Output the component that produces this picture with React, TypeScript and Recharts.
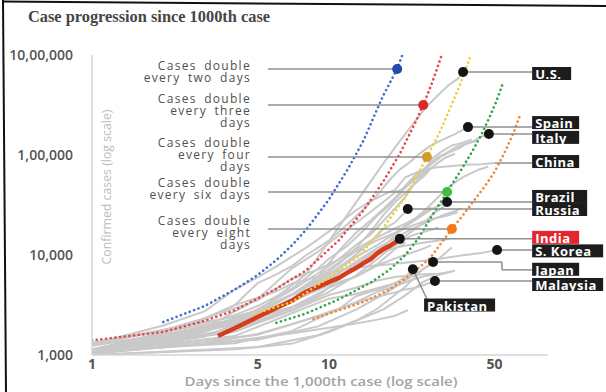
import React from "react";
import { LineChart, Line, XAxis, YAxis, ReferenceLine, ReferenceDot } from "recharts";

type Pt = [number, number];

const title = "Case progression since 1000th case";
const xLabel = "Days since the 1,000th case (log scale)";
const yLabel = "Confirmed cases (log scale)";

const xTicks = [1, 5, 10, 50];
const yTicks = [1000, 10000, 100000, 1000000];
const yTickLabels = ["1,000", "10,000", "1,00,000", "10,00,000"];

// country curves: [days since 1,000th case, confirmed cases]
const usCases: Pt[] = [[1, 1000], [3, 1700], [5, 2700], [8, 6400], [11, 19000], [14, 43000], [17, 83000], [20, 140000], [23, 215000], [26, 310000], [29, 400000], [32, 500000], [35, 580000], [36.8, 676000]];
const spainCases: Pt[] = [[1, 1073], [2, 1695], [3, 2277], [4, 3146], [5, 5232], [6, 6391], [7, 7798], [8, 9942], [10, 13910], [12, 20410], [14, 28603], [16, 39673], [18, 56188], [20, 72248], [22, 85195], [24, 102136], [26, 117710], [28, 130759], [31, 146690], [34, 161852], [38.6, 190000]];
const italyCases: Pt[] = [[1, 1128], [2, 1694], [3, 2036], [4, 2502], [5, 3089], [6, 3858], [7, 4636], [8, 5883], [9, 7375], [10, 9172], [12, 12462], [14, 17660], [16, 24747], [18, 31506], [20, 41035], [22, 53578], [24, 63927], [26, 74386], [28, 86498], [30, 97689], [32, 105792], [35, 115242], [38, 128948], [41, 139422], [44, 152271], [47.3, 162000]];
const germanyCases: Pt[] = [[1, 1040], [3, 1565], [5, 2369], [7, 3675], [9, 6012], [11, 10999], [13, 16662], [15, 22213], [17, 29056], [19, 37323], [21, 49344], [23, 61913], [25, 71808], [27, 84794], [29, 96092], [31, 103375], [34, 118181], [37, 127854], [40, 134000], [42, 138000]];
const franceCases: Pt[] = [[1, 1126], [3, 1784], [5, 2860], [7, 4469], [9, 6573], [11, 9043], [13, 12612], [15, 16018], [17, 22025], [19, 29155], [21, 38105], [23, 52128], [25, 64338], [27, 90848], [30, 109069], [33, 124869], [36, 130253], [40, 143000]];
const ukCases: Pt[] = [[1, 1140], [3, 1950], [5, 2626], [7, 3983], [9, 5683], [11, 8077], [13, 11658], [15, 17089], [17, 25150], [19, 33718], [21, 41903], [23, 51608], [25, 60733], [27, 73758], [29, 84279], [31, 93873], [34, 103000]];
const turkeyCases: Pt[] = [[1, 1236], [3, 1872], [5, 3629], [7, 7402], [9, 10827], [11, 15679], [13, 20921], [15, 27069], [17, 34109], [19, 42282], [21, 47029], [23, 56956], [25, 65111], [27, 74193]];
const iranCases: Pt[] = [[1, 1000], [3, 2336], [5, 3513], [7, 5823], [9, 7161], [11, 9000], [13, 11364], [15, 13938], [17, 16169], [19, 18407], [21, 20610], [23, 23049], [25, 27017], [27, 32332], [29, 38309], [31, 44605], [33, 50468], [35, 55743], [37, 60500], [40, 66220], [43, 71686], [47, 76389]];
const chinaCases: Pt[] = [[1, 1287], [2, 1975], [3, 2744], [4, 4515], [5, 5974], [6, 7711], [7, 9692], [8, 11791], [9, 14380], [10, 17205], [11, 20438], [13, 28018], [15, 34546], [17, 40171], [19, 44653], [21, 59804], [24, 68500], [28, 75077], [33, 77658], [38, 79968], [44, 81000], [50, 83000]];
const brazilCases: Pt[] = [[1, 1128], [3, 1593], [5, 2201], [7, 2985], [9, 3904], [11, 5717], [13, 7910], [15, 10278], [17, 12056], [19, 15927], [21, 19638], [23, 22169], [25, 25262], [27, 28610], [29, 31000], [31.5, 33900]];
const russiaCases: Pt[] = [[1, 1036], [3, 1534], [5, 2337], [7, 3548], [9, 5389], [11, 7497], [13, 10131], [15, 13584], [17, 18328], [19, 21102], [21.5, 28800]];
const belgiumCases: Pt[] = [[1, 1085], [4, 1795], [7, 2815], [10, 4269], [13, 6235], [16, 9134], [19, 12775], [22, 16770], [25, 20814], [28, 26667], [31, 31119], [33, 34809]];
const netherlandsCases: Pt[] = [[1, 1135], [4, 2051], [7, 3631], [10, 5560], [13, 8603], [16, 11750], [19, 14697], [22, 17851], [25, 20549], [28, 23097], [31, 25587], [34, 27419], [36, 29214]];
const canadaCases: Pt[] = [[1, 1087], [4, 2088], [7, 4043], [10, 6320], [13, 9560], [16, 12549], [19, 16667], [22, 20654], [25, 25680], [27, 30106]];
const switzerlandCases: Pt[] = [[1, 1139], [4, 2200], [7, 4075], [10, 7245], [13, 10897], [16, 14076], [19, 16605], [22, 19303], [25, 21574], [28, 23280], [31, 24551], [35, 26732]];
const portugalCases: Pt[] = [[1, 1020], [4, 2060], [7, 3544], [10, 5962], [13, 8251], [16, 10524], [19, 12442], [22, 15472], [25, 16934], [29, 18841]];
const austriaCases: Pt[] = [[1, 1018], [4, 2013], [7, 3631], [10, 5888], [13, 8271], [16, 10180], [19, 11781], [22, 12640], [25, 13244], [28, 13806], [32, 14476]];
const israelCases: Pt[] = [[1, 1071], [4, 2030], [7, 3035], [10, 4695], [13, 6092], [16, 7851], [19, 9248], [22, 10408], [25, 11586], [27, 12501]];
const swedenCases: Pt[] = [[1, 1040], [5, 1423], [9, 1934], [13, 2840], [17, 4028], [21, 5568], [25, 7206], [29, 9141], [33, 11900]];
const irelandCases: Pt[] = [[1, 1329], [4, 2415], [7, 3447], [10, 4994], [13, 6074], [16, 8089], [19, 11479], [21, 13271]];
const koreaCases: Pt[] = [[1, 1261], [2, 1766], [3, 2337], [4, 3150], [5, 3736], [6, 4335], [7, 5186], [8, 5621], [9, 6088], [10, 6593], [12, 7313], [15, 7755], [19, 8162], [24, 8652], [29, 9137], [36, 9887], [43, 10384], [51.2, 11200]];
const japanCases: Pt[] = [[1, 1000], [4, 1140], [7, 1300], [10, 1700], [13, 2200], [16, 2900], [19, 4000], [21, 4800], [23, 6000], [25, 7300], [27.5, 8500]];
const malaysiaCases: Pt[] = [[1, 1030], [3, 1306], [5, 1624], [7, 2031], [9, 2470], [11, 2908], [13, 3333], [15, 3662], [17, 3963], [19, 4228], [21, 4530], [23, 4683], [25, 4987], [28, 5500]];
const pakistanCases: Pt[] = [[1, 1057], [3, 1373], [5, 1597], [7, 2039], [9, 2450], [11, 2880], [13, 3864], [15, 4322], [17, 4695], [19, 5230], [21, 5988], [22.6, 7200]];
const thailandCases: Pt[] = [[1, 1045], [4, 1388], [7, 1651], [10, 1875], [13, 2067], [16, 2258], [19, 2473], [21.5, 2800]];
const philippinesCases: Pt[] = [[1, 1075], [4, 1546], [7, 2633], [10, 3660], [13, 4076], [16, 4648], [19, 5223], [20, 5453]];
const australiaCases: Pt[] = [[1, 1072], [4, 1709], [7, 2799], [10, 3984], [13, 4707], [16, 5548], [19, 6013], [22, 6238], [25, 6415], [28, 6500]];
const norwayCases: Pt[] = [[1, 1090], [4, 1308], [7, 1742], [10, 2621], [13, 3369], [16, 4284], [19, 4863], [22, 5550], [25, 6086], [28, 6409], [33, 6800]];
const denmarkCases: Pt[] = [[1, 1000], [5, 1200], [9, 1577], [13, 2200], [17, 2860], [21, 3946], [25, 5402], [29, 6318], [34, 7000]];

const grayCurves: Pt[][] = [
  usCases, spainCases, italyCases, germanyCases, franceCases, ukCases, turkeyCases, iranCases,
  chinaCases, brazilCases, russiaCases, belgiumCases, netherlandsCases, canadaCases, switzerlandCases,
  portugalCases, austriaCases, israelCases, swedenCases, irelandCases, koreaCases, japanCases,
  malaysiaCases, pakistanCases, thailandCases, philippinesCases, australiaCases, norwayCases, denmarkCases,
];

const indiaCases: Pt[] = [[3.4, 1550], [4, 1850], [5, 2400], [6, 2950], [7, 3500], [8, 4300], [9, 4800], [10, 5370], [11, 5900], [12, 6700], [13, 7400], [14, 8300], [15, 9100], [16, 10400], [17, 11500], [18, 12300], [19, 13400], [19.9, 14500]];

// doubling guides
const doubleTwo: Pt[] = [[2, 2140], [3, 3100], [4, 4500], [5, 6300], [6, 8900], [7, 12600], [8, 17800], [10, 36000], [12, 72000], [14, 140000], [16, 290000], [17, 400000], [19.4, 724000], [20.4, 1000000]];
const doubleThree: Pt[] = [[1, 1400], [2, 1700], [3, 2200], [4, 2800], [6, 4600], [8, 7000], [11, 14000], [14, 28000], [17, 55000], [20, 105000], [23, 205000], [25, 316000], [27.5, 560000], [29.9, 1000000]];
const doubleFour: Pt[] = [[4.9, 2600], [7, 3400], [9.4, 5400], [11.5, 7500], [13.5, 10000], [16.9, 18600], [21.3, 39800], [25.9, 95500], [29, 160000], [32.4, 290000], [36, 530000], [39.7, 1000000]];
const doubleSix: Pt[] = [[6, 2100], [8, 2600], [11, 3600], [15, 5300], [18, 7100], [21, 10000], [24, 15000], [27, 24000], [31.5, 42700], [36, 70000], [40, 106000], [44, 160000], [48, 250000], [51, 350000], [54, 510000]];
const doubleEight: Pt[] = [[8.6, 2300], [11, 2800], [14, 3400], [18, 4500], [22.6, 6600], [26.7, 9300], [30, 13500], [33, 18200], [36.5, 24500], [40.5, 34000], [45, 47000], [50, 68000], [55, 105000], [60, 165000], [64, 250000]];
const guideCurves: Pt[][] = [doubleTwo, doubleThree, doubleFour, doubleSix, doubleEight];
const guideDots: Pt[] = [[19.4, 724000], [25, 316000], [25.9, 95500], [31.5, 42700], [33, 18200]];
const guideText: string[][] = [
  ["Cases double", "every two days"],
  ["Cases double", "every three", "days"],
  ["Cases double", "every four", "days"],
  ["Cases double", "every six days"],
  ["Cases double", "every eight", "days"],
];
const guideLeaderStart = 5.53;

// country call-outs
const labelNames = ["U.S.", "Spain", "Italy", "China", "Brazil", "Russia", "India", "S. Korea", "Japan", "Malaysia", "Pakistan"];
const labelBoxAt: Pt[] = [[72, 653000], [72, 211000], [72, 150000], [72, 86000], [72, 38500], [72, 28500], [72, 15000], [72, 11000], [72, 7200], [72, 5070], [25.2, 3160]];
const markerAt: (Pt | null)[] = [[36.8, 676000], [38.6, 190000], [47.3, 162000], null, [31.5, 33900], [21.5, 28800], [19.9, 14500], [51.2, 11200], [27.5, 8500], [28, 5500], [22.6, 7200]];
const leaderPaths: Pt[][] = [
  [[36.8, 676000], [72, 676000]],
  [[38.6, 190000], [72, 190000]],
  [[47.3, 162000], [72, 162000]],
  [[50, 83000], [72, 83000]],
  [[31.5, 33900], [72, 33900]],
  [[21.5, 28800], [72, 28800]],
  [[19.9, 14500], [72, 14500]],
  [[51.2, 11200], [72, 11200]],
  [[27.5, 8500], [53.7, 8500], [53.7, 7100], [72, 7100]],
  [[28, 5500], [72, 5500]],
  [[22.6, 7200], [25.9, 3630]],
];

const guideColors = ["#3f6fd2", "#e4484b", "#f2cd38", "#34a64a", "#f0883a"];
const guideDotColors = ["#2447b0", "#e0262a", "#d59b2a", "#3cbf3c", "#f27a1c"];
const guideTextShift = [-4, -7, -14, -9, -8];

const sans = "'Open Sans', 'Noto Sans', sans-serif";
const toRows = (pts: Pt[]) => pts.map(([d, v]) => ({ d, v }));

function GuideText({ cx, cy, lines, shift }: any) {
  return (
    <g>
      {lines.map((t: string, i: number) => (
        <text
          key={i}
          x={cx - 17}
          y={cy + shift + i * 12}
          textAnchor="end"
          dominantBaseline="central"
          fill="#505050"
          fontSize={12}
          fontFamily={sans}
          letterSpacing={1.3}
          wordSpacing={3}
        >
          {t}
        </text>
      ))}
    </g>
  );
}

function LabelBox({ cx, cy, text, red }: any) {
  const w = 7 + text.length * 8;
  return (
    <g>
      <rect x={cx} y={cy - 6.5} width={w} height={13} fill={red ? "#e3262d" : "#1c1c1c"} />
      <text x={cx + 3} y={cy + 0.5} dominantBaseline="central" fill="#fff" fontSize={13} fontWeight={700} fontFamily={sans} letterSpacing={0.5}>
        {text}
      </text>
    </g>
  );
}

export default function App() {
  return (
    <div style={{ position: "absolute", left: 0, top: 0, width: 606, height: 392, background: "#fff" }}>
      <LineChart width={606} height={392} margin={{ top: 55, right: 58, bottom: 0, left: 0 }}>
        <XAxis
          dataKey="d"
          type="number"
          scale="log"
          domain={[1, 84]}
          allowDataOverflow
          ticks={xTicks}
          interval={0}
          height={37}
          tickLine={false}
          tickSize={0}
          tickMargin={4}
          axisLine={{ stroke: "#d4d4d4", strokeWidth: 1.5 }}
          tick={{ fontSize: 14, fontWeight: 700, fill: "#555", fontFamily: sans }}
        />
        <YAxis
          dataKey="v"
          type="number"
          scale="log"
          domain={[1000, 1000000]}
          allowDataOverflow
          ticks={yTicks}
          interval={0}
          width={92}
          tickLine={false}
          tickSize={0}
          tickMargin={19}
          axisLine={{ stroke: "#d4d4d4", strokeWidth: 1.5 }}
          tickFormatter={(v: number) => yTickLabels[yTicks.indexOf(v)]}
          tick={{ fontSize: 14, fontWeight: 600, fill: "#555", fontFamily: sans }}
        />

        {grayCurves.map((pts, i) => (
          <Line key={"g" + i} data={toRows(pts)} dataKey="v" type="linear" stroke="#c9c9c9" strokeWidth={2} dot={false} activeDot={false} isAnimationActive={false} />
        ))}

        <Line data={toRows(indiaCases)} dataKey="v" type="linear" stroke="#d83a1c" strokeWidth={4.5} dot={false} activeDot={false} isAnimationActive={false} />

        {guideCurves.map((pts, i) => (
          <Line
            key={"dbl" + i}
            data={toRows(pts)}
            dataKey="v"
            type="linear"
            stroke={guideColors[i]}
            strokeWidth={2.6}
            strokeDasharray="0.1 4.6"
            strokeLinecap="round"
            dot={false}
            activeDot={false}
            isAnimationActive={false}
          />
        ))}

        {guideDots.map(([d, v], i) => (
          <ReferenceLine key={"gl" + i} segment={[{ x: guideLeaderStart, y: v }, { x: d, y: v }]} stroke="#8f8f8f" strokeWidth={1.5} />
        ))}
        {leaderPaths.flatMap((path, i) =>
          path.slice(1).map((p, j) => (
            <ReferenceLine key={"ll" + i + "_" + j} segment={[{ x: path[j][0], y: path[j][1] }, { x: p[0], y: p[1] }]} stroke="#8f8f8f" strokeWidth={1.5} />
          ))
        )}

        {guideDots.map(([d, v], i) => (
          <ReferenceDot key={"gd" + i} x={d} y={v} r={5} fill={guideDotColors[i]} stroke="none" />
        ))}
        {guideDots.map(([, v], i) => (
          <ReferenceDot
            key={"gt" + i}
            x={guideLeaderStart}
            y={v}
            r={0}
            shape={(p: any) => <GuideText cx={p.cx} cy={p.cy} lines={guideText[i]} shift={guideTextShift[i]} />}
          />
        ))}
        {markerAt.map((m, i) =>
          m ? <ReferenceDot key={"md" + i} x={m[0]} y={m[1]} r={5} fill="#141414" stroke="none" /> : null
        )}
        {labelBoxAt.map(([d, v], i) => (
          <ReferenceDot
            key={"lb" + i}
            x={d}
            y={v}
            r={0}
            shape={(p: any) => <LabelBox cx={p.cx} cy={p.cy} text={labelNames[i]} red={labelNames[i] === "India"} />}
          />
        ))}
      </LineChart>

      <svg width={606} height={392} style={{ position: "absolute", left: 0, top: 0, pointerEvents: "none" }}>
        <line x1={3} y1={0} x2={6} y2={392} stroke="#111" strokeWidth={2} />
        <line x1={2} y1={1.5} x2={606} y2={6} stroke="#111" strokeWidth={2} />
        <text x={28} y={22} fontFamily="'Liberation Serif', 'DejaVu Serif', serif" fontWeight={700} fontSize={16} fill="#454545" textLength={242} lengthAdjust="spacingAndGlyphs">
          {title}
        </text>
        <text
          x={106}
          y={187}
          transform="rotate(-90 106 187)"
          textAnchor="middle"
          dominantBaseline="central"
          fontFamily={sans}
          fontSize={13}
          fill="#bcbcbc"
          textLength={155}
          lengthAdjust="spacingAndGlyphs"
        >
          {yLabel}
        </text>
        <text x={321} y={381} textAnchor="middle" dominantBaseline="central" fontFamily={sans} fontWeight={600} fontSize={13} fill="#a3a3a3" textLength={273} lengthAdjust="spacingAndGlyphs">
          {xLabel}
        </text>
      </svg>
    </div>
  );
}
